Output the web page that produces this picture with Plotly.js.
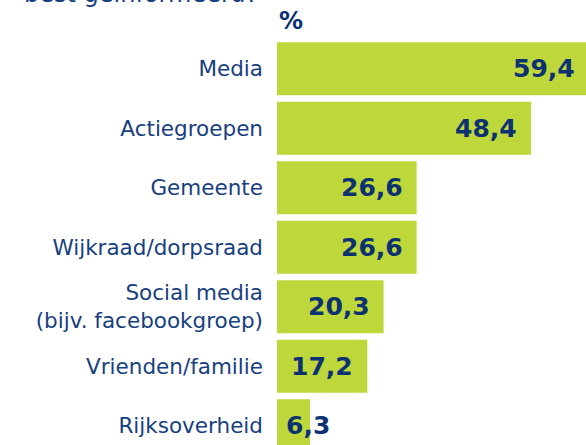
<!DOCTYPE html>
<html>
<head>
<meta charset="utf-8">
<script src="https://cdn.plot.ly/plotly-3.0.1.min.js"></script>
<style>html,body{margin:0;padding:0;background:#fff;}#chart{width:586px;height:445px;}</style>
</head>
<body>
<div id="chart"></div>
<script>
const categories = ["Media", "Actiegroepen", "Gemeente", "Wijkraad/dorpsraad", "Social media<br>(bijv. facebookgroep)", "Vrienden/familie", "Rijksoverheid"];
const values = [59.4, 48.4, 26.6, 26.6, 20.3, 17.2, 6.3];
const valueLabels = ["59,4", "48,4", "26,6", "26,6", "20,3", "17,2", "6,3"];
const unitLabel = "%";
const titleFragment = "best geïnformeerd?";

const green = "#bed73b";
const navy = "#0c3272";
const labelNavy = "#17407f";

const W = 586, H = 445;
const margin = {l: 277, r: 0, t: 39, b: 0};
const xMax = 58.86;
const plotW = W - margin.l - margin.r;
const plotH = H - margin.t - margin.b;

const annotations = values.map((v, i) => {
  const small = v < 10;
  return {
    x: small ? 0 : v / xMax, y: i, xref: "paper", yref: "y",
    text: "<b>" + valueLabels[i] + "</b>",
    showarrow: false,
    xanchor: small ? "left" : "right",
    xshift: small ? 7 : -12,
    yanchor: "middle",
    font: {family: "DejaVu Sans", size: 25, color: navy}
  };
});
annotations.push({
  x: 0, y: 1, xref: "paper", yref: "paper",
  text: "<b>" + unitLabel + "</b>", showarrow: false,
  xanchor: "left", yanchor: "bottom", xshift: 0, yshift: 2,
  font: {family: "DejaVu Sans", size: 24, color: navy}
});
annotations.push({
  x: (22 - margin.l) / plotW, y: 1 + (margin.t + 6) / plotH, xref: "paper", yref: "paper",
  text: titleFragment, showarrow: false,
  xanchor: "left", yanchor: "middle",
  font: {family: "DejaVu Sans", size: 24, color: labelNavy}
});

const trace = {
  type: "bar", orientation: "h",
  x: values, y: categories.map((c, i) => i),
  marker: {color: green},
  hoverinfo: "skip"
};

const layout = {
  width: W, height: H,
  margin: margin,
  paper_bgcolor: "#fff", plot_bgcolor: "#fff",
  bargap: 0.11,
  showlegend: false,
  xaxis: {range: [0, xMax], visible: false, fixedrange: true},
  yaxis: {
    range: [6.324, -0.5],
    tickmode: "array", tickvals: categories.map((c, i) => i), ticktext: categories,
    ticks: "", showgrid: false, zeroline: false, showline: false,
    ticklabelstandoff: 13,
    tickfont: {family: "DejaVu Sans", size: 21.5, color: labelNavy},
    fixedrange: true
  },
  annotations: annotations
};

Plotly.newPlot("chart", [trace], layout, {staticPlot: true, displayModeBar: false});
</script>
</body>
</html>
